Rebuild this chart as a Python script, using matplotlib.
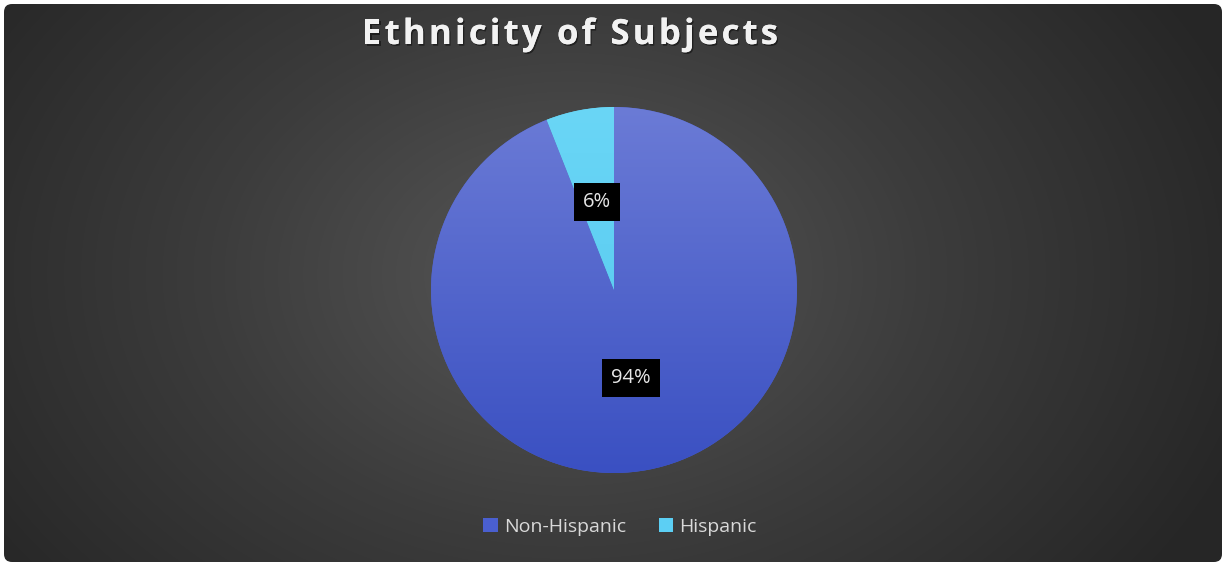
import numpy as np
import matplotlib
matplotlib.use('Agg')
import matplotlib.pyplot as plt
import matplotlib.patheffects as pe
from matplotlib.patches import FancyBboxPatch, Patch
from matplotlib.colors import LinearSegmentedColormap

# data
labels = ['Non-Hispanic', 'Hispanic']
values = [94, 6]
title = 'Ethnicity of Subjects'

# colours (top -> bottom of each slice gradient)
slice_top = ['#6b7bd6', '#6ad6f6']
slice_bottom = ['#3a50c2', '#52c6ee']
legend_colors = ['#4a5fcf', '#5ccff4']

W, H = 1225, 565
fig = plt.figure(figsize=(W / 100, H / 100), dpi=100, facecolor='white')
ax = fig.add_axes([0, 0, 1, 1])
ax.set_xlim(0, W)
ax.set_ylim(0, H)
ax.set_aspect('equal')
ax.axis('off')

# background: rounded panel with radial gradient
yy, xx = np.mgrid[0:H, 0:W]
d = np.sqrt(((xx - 570) / 720.0) ** 2 + ((yy - 290) / 520.0) ** 2)
bg = np.clip(d, 0, 1)
bg_cmap = LinearSegmentedColormap.from_list('bg', ['#575757', '#3c3c3c', '#262626'])
panel = FancyBboxPatch((4, 3), W - 7, H - 7, boxstyle='round,pad=0,rounding_size=8',
                       facecolor='none', edgecolor='none')
ax.add_patch(panel)
im = ax.imshow(bg, cmap=bg_cmap, extent=(0, W, 0, H), origin='lower', zorder=0)
im.set_clip_path(panel)

# pie
cx, cy, r = 614, 275, 183
wedges, texts, autotexts = ax.pie(
    values, center=(cx, cy), radius=r, startangle=90, counterclock=False,
    colors=legend_colors, autopct='%1.0f%%', pctdistance=0.49,
    wedgeprops=dict(linewidth=0), textprops=dict(fontsize=14.5, color='#e6e6e6',
                                                 family='Open Sans'))
ax.set_xlim(0, W)
ax.set_ylim(0, H)
ax.set_aspect('equal')

grad = np.linspace(0, 1, 256).reshape(-1, 1)
for w, c0, c1 in zip(wedges, slice_top, slice_bottom):
    cm = LinearSegmentedColormap.from_list('s', [c1, c0])
    g = ax.imshow(grad, cmap=cm, extent=(cx - r, cx + r, cy - r, cy + r),
                  origin='lower', aspect='auto', zorder=2)
    g.set_clip_path(w)

for t in autotexts:
    t.set_zorder(5)
    t.set_bbox(dict(facecolor='black', edgecolor='none', boxstyle='square,pad=0.45'))

# title, drawn letter by letter to get the wide tracking
renderer = fig.canvas.get_renderer()
shadow = [pe.withSimplePatchShadow(offset=(1, -1.2), shadow_rgbFace='black', alpha=0.45),
          pe.Normal()]
tracking = 3.2
chars = []
x = 0.0
for ch in title:
    t = ax.text(x, H - 35, ch, ha='left', va='center', fontsize=25, fontweight='bold',
                family='Open Sans', color='#f2f2f2', path_effects=shadow)
    bb = t.get_window_extent(renderer)
    chars.append((t, x))
    if ch == ' ':
        w = ax.text(0, 0, 'a a', fontsize=25, fontweight='bold', family='Open Sans')
        w2 = ax.text(0, 0, 'aa', fontsize=25, fontweight='bold', family='Open Sans')
        adv = w.get_window_extent(renderer).width - w2.get_window_extent(renderer).width
        w.remove()
        w2.remove()
    else:
        adv = bb.width
    x += adv + tracking
total = x - tracking
x0 = 570 - total / 2
for t, xo in chars:
    t.set_x(x0 + xo)

# legend
handles = [Patch(facecolor=c, edgecolor='none') for c in legend_colors]
leg = ax.legend(handles, labels, loc='center', bbox_to_anchor=(620 / W, 1 - 527 / H),
                ncol=2, frameon=False, handlelength=0.75, handleheight=0.75,
                handletextpad=0.3, columnspacing=1.7,
                prop=dict(family='Open Sans', size=14))
for t in leg.get_texts():
    t.set_color('#d9d9d9')

fig.savefig('out.png', dpi=100, facecolor='white')
